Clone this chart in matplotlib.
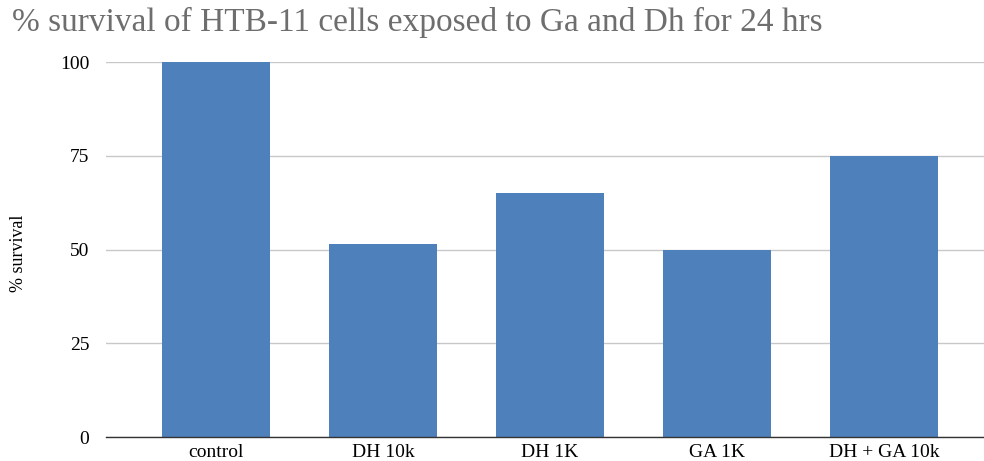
import matplotlib
matplotlib.use("Agg")
import matplotlib.pyplot as plt

categories = ["control", "DH 10k", "DH 1K", "GA 1K", "DH + GA 10k"]
survival = [100, 51.5, 65, 50, 75]
yticks = [0, 25, 50, 75, 100]

plt.rcParams['font.family'] = ['Liberation Serif', 'DejaVu Serif']

fig = plt.figure(figsize=(9.84, 4.61), dpi=100)
ax = fig.add_axes([0.1077, 0.052, 0.8923, 0.8135])

x = list(range(len(categories)))
ax.bar(x, survival, width=0.65, color="#4e80bc", zorder=3)
ax.set_xlim(-0.66, 4.6)
ax.set_ylim(0, 100)
ax.set_yticks(yticks)
ax.set_yticklabels([str(v) for v in yticks], fontsize=14)
ax.set_xticks(x)
ax.set_xticklabels(categories, fontsize=14)
ax.tick_params(axis='both', length=0, pad=12)
ax.tick_params(axis='x', pad=5)
ax.grid(axis='y', color="#c8c8c8", linewidth=1, zorder=0)
for s in ['top', 'right', 'left']:
    ax.spines[s].set_visible(False)
ax.spines['bottom'].set_color("#333333")
ax.spines['bottom'].set_linewidth(1)
ax.spines['bottom'].set_zorder(4)

fig.text(0.019, 0.451, "% survival", rotation=90, fontsize=13, va='center', ha='center',
         transform=fig.transFigure)
fig.text(0.012, 0.952, "% survival of HTB-11 cells exposed to Ga and Dh for 24 hrs",
         fontsize=24, color="#6e6e6e", ha='left', va='center')

fig.savefig("out.png", dpi=100)
